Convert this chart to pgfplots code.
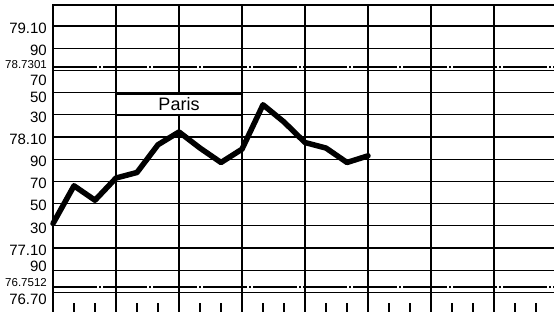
\documentclass[border=0pt]{standalone}
\usepackage{pgfplots}
\pgfplotsset{compat=1.18}
\usepackage{fontspec}
\setmainfont{Liberation Sans}
\begin{document}
\begin{tikzpicture}
\useasboundingbox (0,0) rectangle (554pt,312pt);
\begin{axis}[
  at={(53pt,0pt)}, anchor=south west,
  scale only axis, width=501pt, height=307pt,
  xmin=0, xmax=23.857, ymin=76.523, ymax=79.289,
  axis line style={draw=none},
  /pgf/number format/assume math mode=true,
  major tick length=9pt,
  xtick={1,2,4,5,7,8,10,11,13,14,16,17,19,20,22,23},
  xticklabels={},
  xtick pos=left,
  xtick align=inside,
  x tick style={black, line width=1.1pt},
  ytick={79.082,78.884,78.749,78.614,78.460,78.280,78.082,77.884,77.686,77.487,77.280,77.082,76.93,76.785,76.64},
  yticklabels={79.10,90,{\fontsize{11.5}{11.5}\selectfont 78.7301},70,50,30,78.10,90,70,50,30,77.10,90,{\fontsize{11.5}{11.5}\selectfont 76.7512},76.70},
  y tick style={draw=none},
  ytick pos=left,
  yticklabel style={font=\fontsize{15}{15}\selectfont, inner xsep=1pt, xshift=-5pt},
  extra x ticks={0,3,6,9,12,15,18,21},
  extra x tick labels={},
  extra x tick style={xmajorgrids=true, major grid style={black, line width=1.7pt}, x tick style={draw=none}},
  extra y ticks={76.7,76.9,77.1,77.3,77.5,77.7,77.9,78.1,78.3,78.5,78.7,78.9,79.1},
  extra y tick labels={},
  extra y tick style={ymajorgrids=true, major grid style={black, line width=1.2pt}, y tick style={draw=none}},
  clip=false,
]
\addplot[black, line width=1.9pt, dash pattern=on 44pt off 2pt on 2pt off 2pt, forget plot] coordinates {(0,78.7301) (23.857,78.7301)};
\addplot[black, line width=1.9pt, dash pattern=on 44pt off 2pt on 2pt off 2pt, forget plot] coordinates {(0,76.7512) (23.857,76.7512)};
\addplot[black, line width=5.5pt, line join=round, line cap=round] coordinates {
(0,77.32) (1,77.66) (2,77.53) (3,77.73) (4,77.78) (5,78.03) (6,78.145) (7,78.00)
(8,77.87) (9,77.99) (10,78.39) (11,78.235) (12,78.05) (13,78.00) (14,77.87) (15,77.93)};
\draw[line width=1.8pt, fill=white] (axis cs:3,78.49) rectangle (axis cs:9,78.30)
  node[midway, font=\fontsize{18}{18}\selectfont] {Paris};
\draw[line width=2pt] (rel axis cs:0,0) -- (rel axis cs:0,1) -- (rel axis cs:1,1);
\end{axis}
\end{tikzpicture}
\end{document}
